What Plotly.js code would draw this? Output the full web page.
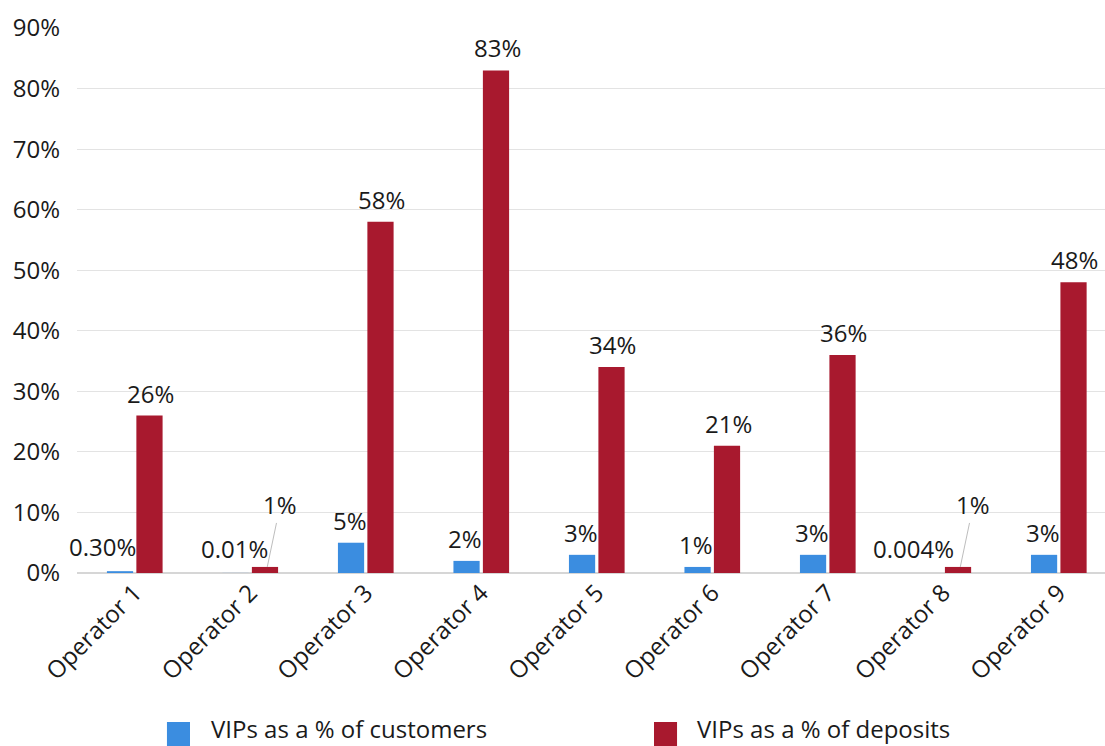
<!DOCTYPE html>
<html>
<head>
<meta charset="utf-8">
<script src="https://cdn.plot.ly/plotly-3.0.1.min.js"></script>
<style>html,body{margin:0;padding:0;background:#fff;}#chart{width:1105px;height:746px;}</style>
</head>
<body>
<div id="chart"></div>
<script>
const categories = ['Operator 1','Operator 2','Operator 3','Operator 4','Operator 5','Operator 6','Operator 7','Operator 8','Operator 9'];
const seriesNames = ['VIPs as a % of customers','VIPs as a % of deposits'];
const customers = [0.3, 0.01, 5, 2, 3, 1, 3, 0.004, 3];
const deposits = [26, 1, 58, 83, 34, 21, 36, 1, 48];
const customerLabels = ['0.30%','0.01%','5%','2%','3%','1%','3%','0.004%','3%'];
const depositLabels = ['26%','1%','58%','83%','34%','21%','36%','1%','48%'];
const yTickVals = [0,10,20,30,40,50,60,70,80,90];
const yTickText = ['0%','10%','20%','30%','40%','50%','60%','70%','80%','90%'];

const BLUE = '#3b8de0';
const RED = '#a8192e';
const FONT = '"Open Sans", "Noto Sans", sans-serif';
const TXT = '#1a1a1a';
const FS = 24;

const traces = [
  {type:'bar', name:seriesNames[0], x:categories, y:customers, marker:{color:BLUE}, hoverinfo:'none', showlegend:false},
  {type:'bar', name:seriesNames[1], x:categories, y:deposits, marker:{color:RED}, hoverinfo:'none', showlegend:false}
];

const annotations = [];
categories.forEach((c,i)=>{
  let xs = -16;
  if (i === 0) xs = -32;
  if (i === 7) xs = -30;
  annotations.push({x:c, y:customers[i], text:customerLabels[i], showarrow:false, xshift:xs, yshift:(i===0||i===1||i===7)?6:4, yanchor:'bottom', font:{family:FONT,size:FS,color:TXT}});
  if (deposits[i] <= 1) {
    annotations.push({x:c, y:deposits[i], text:depositLabels[i], showarrow:true, arrowhead:0, arrowwidth:1, arrowcolor:'#bdbdbd', xshift:17, ax:13, ay:-62, standoff:0, font:{family:FONT,size:FS,color:TXT}});
  } else {
    annotations.push({x:c, y:deposits[i], text:depositLabels[i], showarrow:false, xshift:16, yshift:4, yanchor:'bottom', font:{family:FONT,size:FS,color:TXT}});
  }
});

// legend
const legendItems = [
  {name:seriesNames[0], color:BLUE, sq0:0.0875, sq1:0.1099, tx:0.1284},
  {name:seriesNames[1], color:RED, sq0:0.5613, sq1:0.5837, tx:0.6012}
];
const shapes = [];
legendItems.forEach(l=>{
  shapes.push({type:'rect', xref:'paper', yref:'paper', x0:l.sq0, x1:l.sq1, y0:-0.32, y1:-0.2734, fillcolor:l.color, line:{width:0}});
  annotations.push({xref:'paper', yref:'paper', x:l.tx, y:-0.2862, xanchor:'left', yanchor:'middle', text:l.name, showarrow:false, font:{family:FONT,size:FS,color:TXT}});
});

const layout = {
  width:1105, height:746,
  margin:{l:77, r:0, t:28, b:173},
  paper_bgcolor:'#fff', plot_bgcolor:'#fff',
  barmode:'group', bargap:0.49, bargroupgap:0.11,
  font:{family:FONT, size:FS, color:TXT},
  xaxis:{type:'category', range:[-0.5, 8.4], tickangle:-45, tickfont:{family:FONT,size:FS,color:TXT}, showgrid:false, showline:false, ticks:'', fixedrange:true},
  yaxis:{range:[0,90], tickvals:yTickVals, ticktext:yTickText, tickfont:{family:FONT,size:FS,color:TXT}, showgrid:true, gridcolor:'#e3e3e3', gridwidth:1, zeroline:true, zerolinecolor:'#d6d6d6', zerolinewidth:2, ticks:'', ticklabelstandoff:16, fixedrange:true},
  annotations:annotations,
  shapes:shapes,
  showlegend:false
};

Plotly.newPlot('chart', traces, layout, {displayModeBar:false, staticPlot:true});
</script>
</body>
</html>
